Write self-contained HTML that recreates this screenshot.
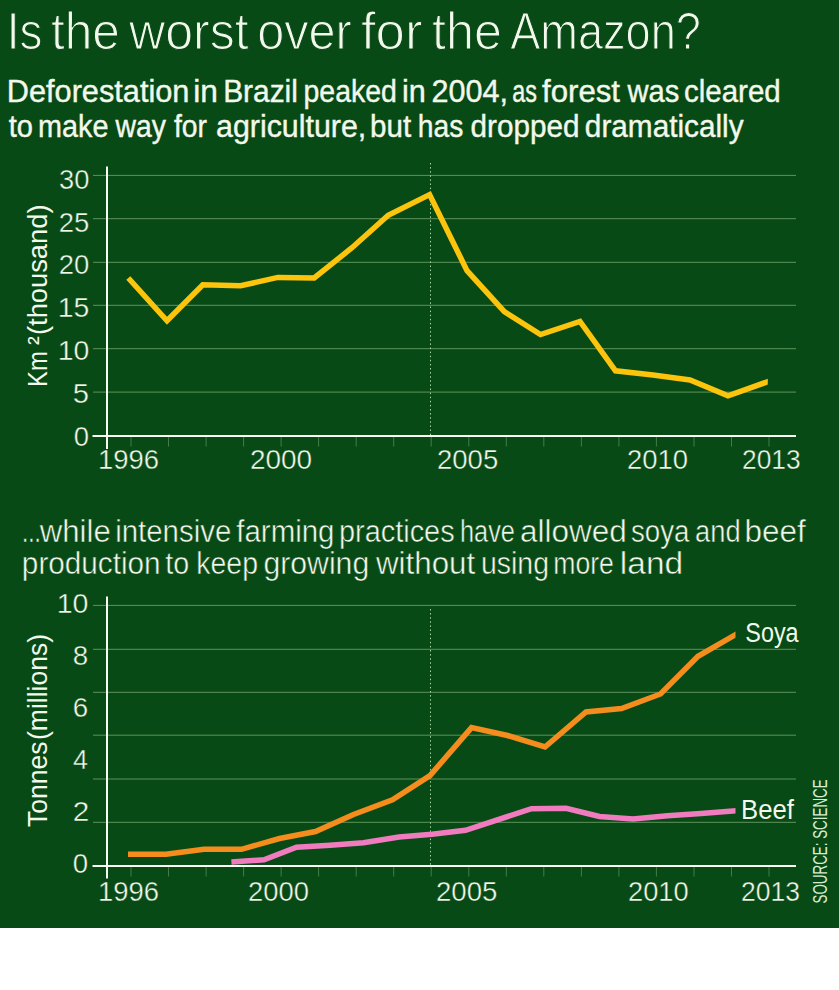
<!DOCTYPE html>
<html><head><meta charset="utf-8"><title>Is the worst over for the Amazon?</title>
<style>
html,body{margin:0;padding:0;background:#fff;}
body{width:839px;height:990px;overflow:hidden;}
svg{display:block;}
text{font-family:"Liberation Sans",sans-serif;fill:#f3f8ec;}
.light{stroke:#084a15;stroke-width:1.2px;}
.semi{stroke:#f3f8ec;stroke-width:0.4px;}
.thin{stroke:#084a15;stroke-width:0.5px;}
.num{stroke:#084a15;stroke-width:0.4px;}
.src{fill:#d5ecd0;}
</style></head>
<body>
<svg width="839" height="990" viewBox="0 0 839 990">
<rect id="bg" x="0" y="0" width="839" height="928" fill="#084a15"/>
<text class="light" x="6.74" y="48.80" font-size="52" textLength="35.67" lengthAdjust="spacingAndGlyphs">Is</text>
<text class="light" x="51.00" y="48.80" font-size="52" textLength="68.97" lengthAdjust="spacingAndGlyphs">the</text>
<text class="light" x="129.02" y="48.80" font-size="52" textLength="119.65" lengthAdjust="spacingAndGlyphs">worst</text>
<text class="light" x="257.13" y="48.80" font-size="52" textLength="94.63" lengthAdjust="spacingAndGlyphs">over</text>
<text class="light" x="360.96" y="48.80" font-size="52" textLength="61.49" lengthAdjust="spacingAndGlyphs">for</text>
<text class="light" x="432.00" y="48.80" font-size="52" textLength="69.90" lengthAdjust="spacingAndGlyphs">the</text>
<text class="light" x="510.19" y="48.80" font-size="52" textLength="190.71" lengthAdjust="spacingAndGlyphs">Amazon?</text>
<text class="semi" x="6.79" y="101.50" font-size="31" textLength="182.62" lengthAdjust="spacingAndGlyphs">Deforestation</text>
<text class="semi" x="193.31" y="101.50" font-size="31" textLength="24.66" lengthAdjust="spacingAndGlyphs">in</text>
<text class="semi" x="223.14" y="101.50" font-size="31" textLength="74.78" lengthAdjust="spacingAndGlyphs">Brazil</text>
<text class="semi" x="303.55" y="101.50" font-size="31" textLength="93.33" lengthAdjust="spacingAndGlyphs">peaked</text>
<text class="semi" x="401.88" y="101.50" font-size="31" textLength="23.81" lengthAdjust="spacingAndGlyphs">in</text>
<text class="semi" x="431.55" y="101.50" font-size="31" textLength="76.48" lengthAdjust="spacingAndGlyphs">2004,</text>
<text class="semi" x="512.28" y="101.50" font-size="31" textLength="24.67" lengthAdjust="spacingAndGlyphs">as</text>
<text class="semi" x="541.99" y="101.50" font-size="31" textLength="78.02" lengthAdjust="spacingAndGlyphs">forest</text>
<text class="semi" x="627.52" y="101.50" font-size="31" textLength="51.85" lengthAdjust="spacingAndGlyphs">was</text>
<text class="semi" x="684.03" y="101.50" font-size="31" textLength="96.68" lengthAdjust="spacingAndGlyphs">cleared</text>
<text class="semi" x="8.80" y="136.60" font-size="31" textLength="24.23" lengthAdjust="spacingAndGlyphs">to</text>
<text class="semi" x="38.12" y="136.60" font-size="31" textLength="70.43" lengthAdjust="spacingAndGlyphs">make</text>
<text class="semi" x="115.59" y="136.60" font-size="31" textLength="50.42" lengthAdjust="spacingAndGlyphs">way</text>
<text class="semi" x="174.00" y="136.60" font-size="31" textLength="33.00" lengthAdjust="spacingAndGlyphs">for</text>
<text class="semi" x="216.01" y="136.60" font-size="31" textLength="150.31" lengthAdjust="spacingAndGlyphs">agriculture,</text>
<text class="semi" x="370.06" y="136.60" font-size="31" textLength="41.07" lengthAdjust="spacingAndGlyphs">but</text>
<text class="semi" x="417.86" y="136.60" font-size="31" textLength="45.52" lengthAdjust="spacingAndGlyphs">has</text>
<text class="semi" x="470.61" y="136.60" font-size="31" textLength="108.85" lengthAdjust="spacingAndGlyphs">dropped</text>
<text class="semi" x="584.84" y="136.60" font-size="31" textLength="158.77" lengthAdjust="spacingAndGlyphs">dramatically</text>
<text class="thin" x="22.03" y="541.60" font-size="31" textLength="18.74" lengthAdjust="spacingAndGlyphs">...</text>
<text class="thin" x="39.75" y="541.60" font-size="31" textLength="70.98" lengthAdjust="spacingAndGlyphs">while</text>
<text class="thin" x="115.21" y="541.60" font-size="31" textLength="116.06" lengthAdjust="spacingAndGlyphs">intensive</text>
<text class="thin" x="236.25" y="541.60" font-size="31" textLength="98.24" lengthAdjust="spacingAndGlyphs">farming</text>
<text class="thin" x="338.93" y="541.60" font-size="31" textLength="115.73" lengthAdjust="spacingAndGlyphs">practices</text>
<text class="thin" x="460.01" y="541.60" font-size="31" textLength="54.91" lengthAdjust="spacingAndGlyphs">have</text>
<text class="thin" x="519.96" y="541.60" font-size="31" textLength="106.94" lengthAdjust="spacingAndGlyphs">allowed</text>
<text class="thin" x="630.91" y="541.60" font-size="31" textLength="58.44" lengthAdjust="spacingAndGlyphs">soya</text>
<text class="thin" x="695.12" y="541.60" font-size="31" textLength="45.52" lengthAdjust="spacingAndGlyphs">and</text>
<text class="thin" x="744.49" y="541.60" font-size="31" textLength="61.32" lengthAdjust="spacingAndGlyphs">beef</text>
<text class="thin" x="21.86" y="574.00" font-size="31" textLength="138.79" lengthAdjust="spacingAndGlyphs">production</text>
<text class="thin" x="165.28" y="574.00" font-size="31" textLength="23.87" lengthAdjust="spacingAndGlyphs">to</text>
<text class="thin" x="196.30" y="574.00" font-size="31" textLength="61.72" lengthAdjust="spacingAndGlyphs">keep</text>
<text class="thin" x="263.41" y="574.00" font-size="31" textLength="105.78" lengthAdjust="spacingAndGlyphs">growing</text>
<text class="thin" x="375.99" y="574.00" font-size="31" textLength="99.21" lengthAdjust="spacingAndGlyphs">without</text>
<text class="thin" x="480.90" y="574.00" font-size="31" textLength="68.12" lengthAdjust="spacingAndGlyphs">using</text>
<text class="thin" x="553.24" y="574.00" font-size="31" textLength="60.66" lengthAdjust="spacingAndGlyphs">more</text>
<text class="thin" x="619.80" y="574.00" font-size="31" textLength="63.36" lengthAdjust="spacingAndGlyphs">land</text>
<text class="num" x="58.99" y="188.60" font-size="27.5" textLength="30.37" lengthAdjust="spacingAndGlyphs">30</text>
<text class="num" x="58.79" y="231.50" font-size="27.5" textLength="30.60" lengthAdjust="spacingAndGlyphs">25</text>
<text class="num" x="58.83" y="274.40" font-size="27.5" textLength="30.52" lengthAdjust="spacingAndGlyphs">20</text>
<text class="num" x="57.82" y="317.30" font-size="27.5" textLength="31.61" lengthAdjust="spacingAndGlyphs">15</text>
<text class="num" x="57.82" y="360.20" font-size="27.5" textLength="31.61" lengthAdjust="spacingAndGlyphs">10</text>
<text class="num" x="72.89" y="403.10" font-size="27.5" textLength="16.25" lengthAdjust="spacingAndGlyphs">5</text>
<text class="num" x="73.82" y="446.00" font-size="27.5" textLength="15.27" lengthAdjust="spacingAndGlyphs">0</text>
<text class="num" x="56.72" y="612.70" font-size="27.5" textLength="31.74" lengthAdjust="spacingAndGlyphs">10</text>
<text class="num" x="72.74" y="664.66" font-size="27.5" textLength="15.46" lengthAdjust="spacingAndGlyphs">8</text>
<text class="num" x="72.73" y="716.62" font-size="27.5" textLength="15.46" lengthAdjust="spacingAndGlyphs">6</text>
<text class="num" x="73.00" y="768.58" font-size="27.5" textLength="15.00" lengthAdjust="spacingAndGlyphs">4</text>
<text class="num" x="72.67" y="820.54" font-size="27.5" textLength="16.55" lengthAdjust="spacingAndGlyphs">2</text>
<text class="num" x="72.86" y="872.50" font-size="27.5" textLength="15.35" lengthAdjust="spacingAndGlyphs">0</text>
<text class="num" x="97.96" y="468.60" font-size="27.5" textLength="61.05" lengthAdjust="spacingAndGlyphs">1996</text>
<text class="num" x="249.92" y="468.60" font-size="27.5" textLength="62.14" lengthAdjust="spacingAndGlyphs">2000</text>
<text class="num" x="436.96" y="468.60" font-size="27.5" textLength="61.27" lengthAdjust="spacingAndGlyphs">2005</text>
<text class="num" x="626.95" y="468.60" font-size="27.5" textLength="60.99" lengthAdjust="spacingAndGlyphs">2010</text>
<text class="num" x="742.03" y="468.60" font-size="27.5" textLength="58.65" lengthAdjust="spacingAndGlyphs">2013</text>
<text class="num" x="97.96" y="900.80" font-size="27.5" textLength="61.05" lengthAdjust="spacingAndGlyphs">1996</text>
<text class="num" x="247.96" y="900.80" font-size="27.5" textLength="60.97" lengthAdjust="spacingAndGlyphs">2000</text>
<text class="num" x="435.95" y="900.80" font-size="27.5" textLength="61.40" lengthAdjust="spacingAndGlyphs">2005</text>
<text class="num" x="627.98" y="900.80" font-size="27.5" textLength="60.67" lengthAdjust="spacingAndGlyphs">2010</text>
<text class="num" x="741.01" y="900.80" font-size="27.5" textLength="58.97" lengthAdjust="spacingAndGlyphs">2013</text>
<text x="745.28" y="641.70" font-size="27" textLength="53.34" lengthAdjust="spacingAndGlyphs">Soya</text>
<text x="741.11" y="818.60" font-size="27" textLength="52.89" lengthAdjust="spacingAndGlyphs">Beef</text>
<text transform="translate(47.20,386.92) rotate(-90)" font-size="27" textLength="35.63" lengthAdjust="spacingAndGlyphs">Km</text>
<text transform="translate(47.20,344.89) rotate(-90)" font-size="27" textLength="8.77" lengthAdjust="spacingAndGlyphs">²</text>
<text transform="translate(47.20,335.06) rotate(-90)" font-size="27" textLength="130.62" lengthAdjust="spacingAndGlyphs">(thousand)</text>
<text transform="translate(47.20,827.00) rotate(-90)" font-size="27" textLength="85.48" lengthAdjust="spacingAndGlyphs">Tonnes</text>
<text transform="translate(47.20,740.00) rotate(-90)" font-size="27" textLength="106.00" lengthAdjust="spacingAndGlyphs">(millions)</text>
<text class="src" transform="translate(826.80,903.49) rotate(-90)" font-size="20" textLength="124.14" lengthAdjust="spacingAndGlyphs">SOURCE: SCIENCE</text>
<g stroke="#5f925c" stroke-width="1"><line x1="93" y1="175.40" x2="796" y2="175.40"/><line x1="93" y1="218.70" x2="796" y2="218.70"/><line x1="93" y1="262.30" x2="796" y2="262.30"/><line x1="93" y1="305.30" x2="796" y2="305.30"/><line x1="93" y1="348.70" x2="796" y2="348.70"/><line x1="93" y1="392.10" x2="796" y2="392.10"/></g>
<g stroke="#437d45" stroke-width="1"><line x1="131.0" y1="436.5" x2="131.0" y2="446.5"/><line x1="168.5" y1="436.5" x2="168.5" y2="446.5"/><line x1="206.1" y1="436.5" x2="206.1" y2="446.5"/><line x1="243.6" y1="436.5" x2="243.6" y2="446.5"/><line x1="281.1" y1="436.5" x2="281.1" y2="446.5"/><line x1="318.6" y1="436.5" x2="318.6" y2="446.5"/><line x1="356.2" y1="436.5" x2="356.2" y2="446.5"/><line x1="393.7" y1="436.5" x2="393.7" y2="446.5"/><line x1="431.2" y1="436.5" x2="431.2" y2="446.5"/><line x1="468.8" y1="436.5" x2="468.8" y2="446.5"/><line x1="506.3" y1="436.5" x2="506.3" y2="446.5"/><line x1="543.8" y1="436.5" x2="543.8" y2="446.5"/><line x1="581.4" y1="436.5" x2="581.4" y2="446.5"/><line x1="618.9" y1="436.5" x2="618.9" y2="446.5"/><line x1="656.4" y1="436.5" x2="656.4" y2="446.5"/><line x1="694.0" y1="436.5" x2="694.0" y2="446.5"/><line x1="731.5" y1="436.5" x2="731.5" y2="446.5"/><line x1="769.0" y1="436.5" x2="769.0" y2="446.5"/></g>
<line x1="430.5" y1="163" x2="430.5" y2="435" stroke="#a6d6a0" stroke-width="1" stroke-dasharray="1.5,2.6"/>
<line x1="107" y1="166.5" x2="107" y2="449" stroke="#f8fcf4" stroke-width="2"/>
<line x1="92.5" y1="436" x2="796" y2="436" stroke="#f8fcf4" stroke-width="2"/>
<clipPath id="cp"><rect x="0" y="0" width="767.8" height="990"/></clipPath>
<polyline clip-path="url(#cp)" points="128.3,278.0 167.0,320.8 202.8,284.8 240.6,285.8 277.8,277.4 314.2,278.0 352.0,247.7 388.2,215.2 429.6,194.6 467.0,270.6 504.3,311.6 540.5,334.5 580.0,321.5 615.5,370.8 653.0,374.9 690.0,379.9 728.0,395.9 770.0,380.9" fill="none" stroke="#fcc40c" stroke-width="5.5" stroke-linejoin="miter"/>
<g stroke="#5f925c" stroke-width="1"><line x1="93" y1="605.40" x2="796" y2="605.40"/><line x1="93" y1="649.30" x2="796" y2="649.30"/><line x1="93" y1="692.30" x2="796" y2="692.30"/><line x1="93" y1="735.20" x2="796" y2="735.20"/><line x1="93" y1="779.00" x2="796" y2="779.00"/><line x1="93" y1="822.30" x2="796" y2="822.30"/></g>
<g stroke="#437d45" stroke-width="1"><line x1="131.0" y1="866.5" x2="131.0" y2="876.5"/><line x1="168.5" y1="866.5" x2="168.5" y2="876.5"/><line x1="206.1" y1="866.5" x2="206.1" y2="876.5"/><line x1="243.6" y1="866.5" x2="243.6" y2="876.5"/><line x1="281.1" y1="866.5" x2="281.1" y2="876.5"/><line x1="318.6" y1="866.5" x2="318.6" y2="876.5"/><line x1="356.2" y1="866.5" x2="356.2" y2="876.5"/><line x1="393.7" y1="866.5" x2="393.7" y2="876.5"/><line x1="431.2" y1="866.5" x2="431.2" y2="876.5"/><line x1="468.8" y1="866.5" x2="468.8" y2="876.5"/><line x1="506.3" y1="866.5" x2="506.3" y2="876.5"/><line x1="543.8" y1="866.5" x2="543.8" y2="876.5"/><line x1="581.4" y1="866.5" x2="581.4" y2="876.5"/><line x1="618.9" y1="866.5" x2="618.9" y2="876.5"/><line x1="656.4" y1="866.5" x2="656.4" y2="876.5"/><line x1="694.0" y1="866.5" x2="694.0" y2="876.5"/><line x1="731.5" y1="866.5" x2="731.5" y2="876.5"/><line x1="769.0" y1="866.5" x2="769.0" y2="876.5"/></g>
<line x1="430.5" y1="609" x2="430.5" y2="865" stroke="#a6d6a0" stroke-width="1" stroke-dasharray="1.5,2.6"/>
<line x1="107" y1="596.5" x2="107" y2="878.5" stroke="#f8fcf4" stroke-width="2"/>
<line x1="92.5" y1="866" x2="796" y2="866" stroke="#f8fcf4" stroke-width="2"/>
<clipPath id="cp2"><rect x="0" y="0" width="735.5" height="990"/></clipPath>
<polyline clip-path="url(#cp2)" points="128.0,854.3 166.0,854.3 204.0,849.3 241.5,849.3 279.5,838.5 315.5,831.5 353.5,814.5 392.5,799.8 430.0,775.6 471.5,727.6 507.5,735.5 545.0,747.0 586.0,712.0 621.5,708.5 660.5,694.0 698.0,656.3 739.0,632.6" fill="none" stroke="#f58c1e" stroke-width="5.5" stroke-linejoin="miter"/>
<polyline clip-path="url(#cp2)" points="231.4,861.9 264.0,859.8 296.5,847.2 330.0,845.2 363.5,842.8 399.0,837.0 432.0,834.2 465.5,830.3 531.5,808.7 566.0,808.3 599.5,816.5 633.0,819.0 667.5,815.8 701.0,813.6 738.0,810.7" fill="none" stroke="#f07cbf" stroke-width="5.5" stroke-linejoin="miter"/>
</svg>
</body></html>
